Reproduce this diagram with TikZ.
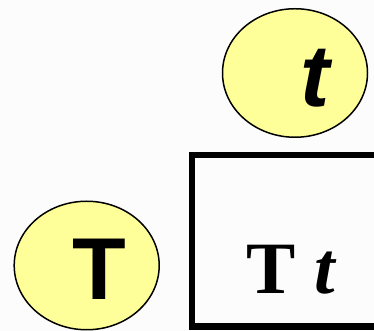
\documentclass[tikz,border=0pt]{standalone}
\usepackage{fontspec}
\newfontfamily\arialish{Liberation Sans}
\newfontfamily\timesish{Liberation Serif}
\usetikzlibrary{shapes.geometric}
\definecolor{pale}{RGB}{255,255,153}
\definecolor{paper}{RGB}{252,252,252}

\begin{document}
\begin{tikzpicture}[
  blob/.style     = {ellipse, draw, line width=0.85pt, fill=pale, inner sep=0pt,
                     minimum width=2.9cm, minimum height=2.57cm,
                     text height=1.35cm, text depth=0pt},
                      % the letter sits a little right of the middle
  frame/.style    = {draw, line width=3.7pt, inner sep=0pt,
                     minimum width=3.95cm, minimum height=3.43cm,
                     text height=2.13cm, text depth=0pt},
  bigsans/.style  = {font=\arialish\bfseries\fontsize{50}{60}\selectfont},
  bigserif/.style = {font=\timesish\bfseries\fontsize{42}{50}\selectfont},
]
  \useasboundingbox[fill=paper] (0,0) rectangle (7.48,6.62);

  \node[blob, bigsans] (t) at (5.90,5.16) {\hspace*{0.8cm}\itshape t};
  \node[blob, bigsans] (T) at (1.734,1.31) {\hspace*{0.51cm}T};

  % the box runs off the right edge
  \node[frame, bigserif] (Tt) at (5.81,1.805) {T \itshape t};
\end{tikzpicture}
\end{document}
